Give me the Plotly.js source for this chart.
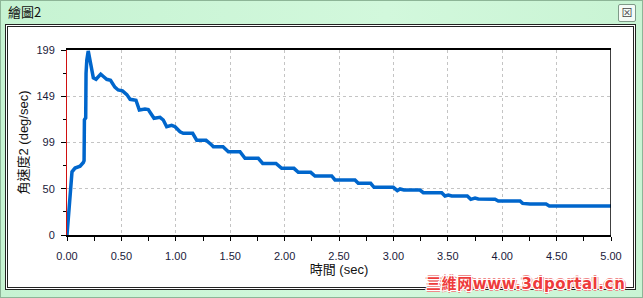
<!DOCTYPE html>
<html>
<head>
<meta charset="utf-8">
<script src="https://cdn.plot.ly/plotly-3.0.1.min.js"></script>
<style>
  html, body { margin:0; padding:0; }
  body { width:643px; height:298px; position:relative; overflow:hidden;
         background: linear-gradient(90deg, #c6f3d2 0%, #d2f8dc 60%, #c9f4d4 100%);
         font-family: "Noto Sans CJK TC", "Liberation Sans", sans-serif; }
  #win { position:absolute; left:0; top:0; width:641px; height:296px; border:1px solid #8db597; }
  #titletxt { position:absolute; left:8px; top:3px; font-size:13px; color:#111; line-height:18px; }
  #closebtn { position:absolute; left:618px; top:4px; width:16px; height:16px; border:1px solid #7f9a88;
              background:#f4fbf6; border-radius:2px; font-size:11px; line-height:15px; text-align:center; color:#444; }
  #frame1 { position:absolute; left:5px; top:24px; width:629px; height:264px; border:1px solid #222; background:#fff; }
  #frame2 { position:absolute; left:7px; top:26px; width:625px; height:260px; border:1px solid #222; background:#fff; }
  #plot { position:absolute; left:0; top:0; width:643px; height:298px; }
  #wm { position:absolute; left:426px; top:275px; font-family:"DejaVu Sans", "Noto Sans CJK SC", sans-serif;
        font-weight:bold; font-size:15px; color:#ee3b3b; letter-spacing:0.6px; line-height:18px;
        text-shadow: 1px 0 #fff, -1px 0 #fff, 0 1px #fff, 0 -1px #fff, 1px 1px #fff, -1px -1px #fff, 1px -1px #fff, -1px 1px #fff,
                     2px 0 #f08a8a, -2px 0 #f08a8a, 0 2px #f08a8a, 0 -2px #f08a8a; }
</style>
</head>
<body>
<div id="win"></div>
<div id="titletxt">繪圖2</div>
<div id="closebtn">⊠</div>
<div id="frame1"></div>
<div id="frame2"></div>
<div id="plot"></div>
<div id="wm">三維网www.3dportal.cn</div>
<script>
// ---- data ----
const timeSec = [0.00,0.006,0.012,0.018,0.028,0.040,0.046,0.074,0.12,0.15,0.157,0.160,0.172,0.175,0.182,0.195,0.205,0.218,0.227,0.242,0.267,0.285,0.31,0.34,0.365,0.40,0.42,0.44,0.47,0.51,0.55,0.58,0.634,0.665,0.717,0.747,0.769,0.80,0.855,0.885,0.916,0.962,0.993,1.039,1.069,1.155,1.192,1.278,1.33,1.345,1.434,1.483,1.59,1.636,1.758,1.799,1.921,1.973,2.086,2.126,2.24,2.279,2.433,2.463,2.647,2.677,2.791,2.822,2.999,3.036,3.061,3.097,3.244,3.275,3.444,3.474,3.505,3.536,3.679,3.711,3.75,3.78,3.934,3.964,4.164,4.188,4.256,4.403,4.433,5.0];
const angVel = [0,9,20,30,45,59,68,72,74,78,80,124,126,174,188,198,192,185,176,169,167.5,170,173,170,167.5,166.5,163,159,156,155,151,146,145,134.5,135.5,135,131,125.5,126.6,123.7,116.5,118,116.5,111,109.4,109.4,102,102,96.8,95,95,89.6,89.6,82.5,82.5,77,77,71.7,71.7,67.4,67.4,63.5,63.5,59.2,59.2,55.6,55.6,51.3,51.3,47.7,49.5,48.4,48.4,45.5,45.5,42,43,42,42,38.4,39.8,38.7,38.4,36.6,36.6,34,33.3,33.3,31.2,31.2];
const xTickVals = [0,0.5,1,1.5,2,2.5,3,3.5,4,4.5,5];
const xTickText = ["0.00","0.50","1.00","1.50","2.00","2.50","3.00","3.50","4.00","4.50","5.00"];
const yTickVals = [0,49.75,99.5,149.25,199];
const yTickText = ["0","50","99","149","199"];
const yMinorVals = [24.875,74.625,124.375,174.125];
const xTitle = "時間 (sec)";
const yTitle = "角速度2 (deg/sec)";

const fontFam = '"Liberation Sans", "Noto Sans CJK TC", sans-serif';

const trace = {
  x: timeSec, y: angVel, type: 'scatter', mode: 'lines',
  line: {color: '#0066cc', width: 3.5}, hoverinfo: 'skip'
};

const layout = {
  width: 643, height: 298,
  margin: {l: 67, r: 32, t: 50, b: 63},
  paper_bgcolor: 'rgba(0,0,0,0)', plot_bgcolor: 'rgba(0,0,0,0)',
  showlegend: false,
  font: {family: fontFam, size: 11, color: '#1a1a3a'},
  xaxis: {
    range: [0, 5], tickmode: 'array', tickvals: xTickVals, ticktext: xTickText,
    showgrid: true, gridcolor: '#c4c4c4', griddash: 'dot', gridwidth: 1,
    showline: true, linecolor: '#000', linewidth: 2, mirror: true,
    ticks: 'outside', ticklen: 4, tickcolor: '#000', tickwidth: 1,
    ticklabelstandoff: 6,
    minor: {dtick: 0.25, tick0: 0, ticks: 'outside', ticklen: 4, tickcolor: '#000', showgrid: false},
    zeroline: false,
    title: {text: xTitle, font: {size: 13, color: '#111', family: fontFam}, standoff: 3}
  },
  yaxis: {
    range: [0, 199], tickmode: 'array', tickvals: yTickVals, ticktext: yTickText,
    showgrid: true, gridcolor: '#c4c4c4', griddash: 'dot', gridwidth: 1,
    showline: true, linecolor: '#d01010', linewidth: 1,
    ticks: 'outside', ticklen: 5, tickcolor: '#000', tickwidth: 1,
    ticklabelstandoff: 4,
    minor: {tickmode: 'array', tickvals: yMinorVals, ticks: 'outside', ticklen: 3, tickcolor: '#000', showgrid: false},
    zeroline: false,
    title: {text: yTitle, font: {size: 13, color: '#111', family: fontFam}, standoff: 4}
  },
  shapes: [
    {type: 'line', xref: 'x', yref: 'y', x0: 5, x1: 5, y0: 0, y1: 199, line: {color: '#000', width: 1.5}, layer: 'above'}
  ]
};

Plotly.newPlot('plot', [trace], layout, {displayModeBar: false, staticPlot: true});
</script>
</body>
</html>
